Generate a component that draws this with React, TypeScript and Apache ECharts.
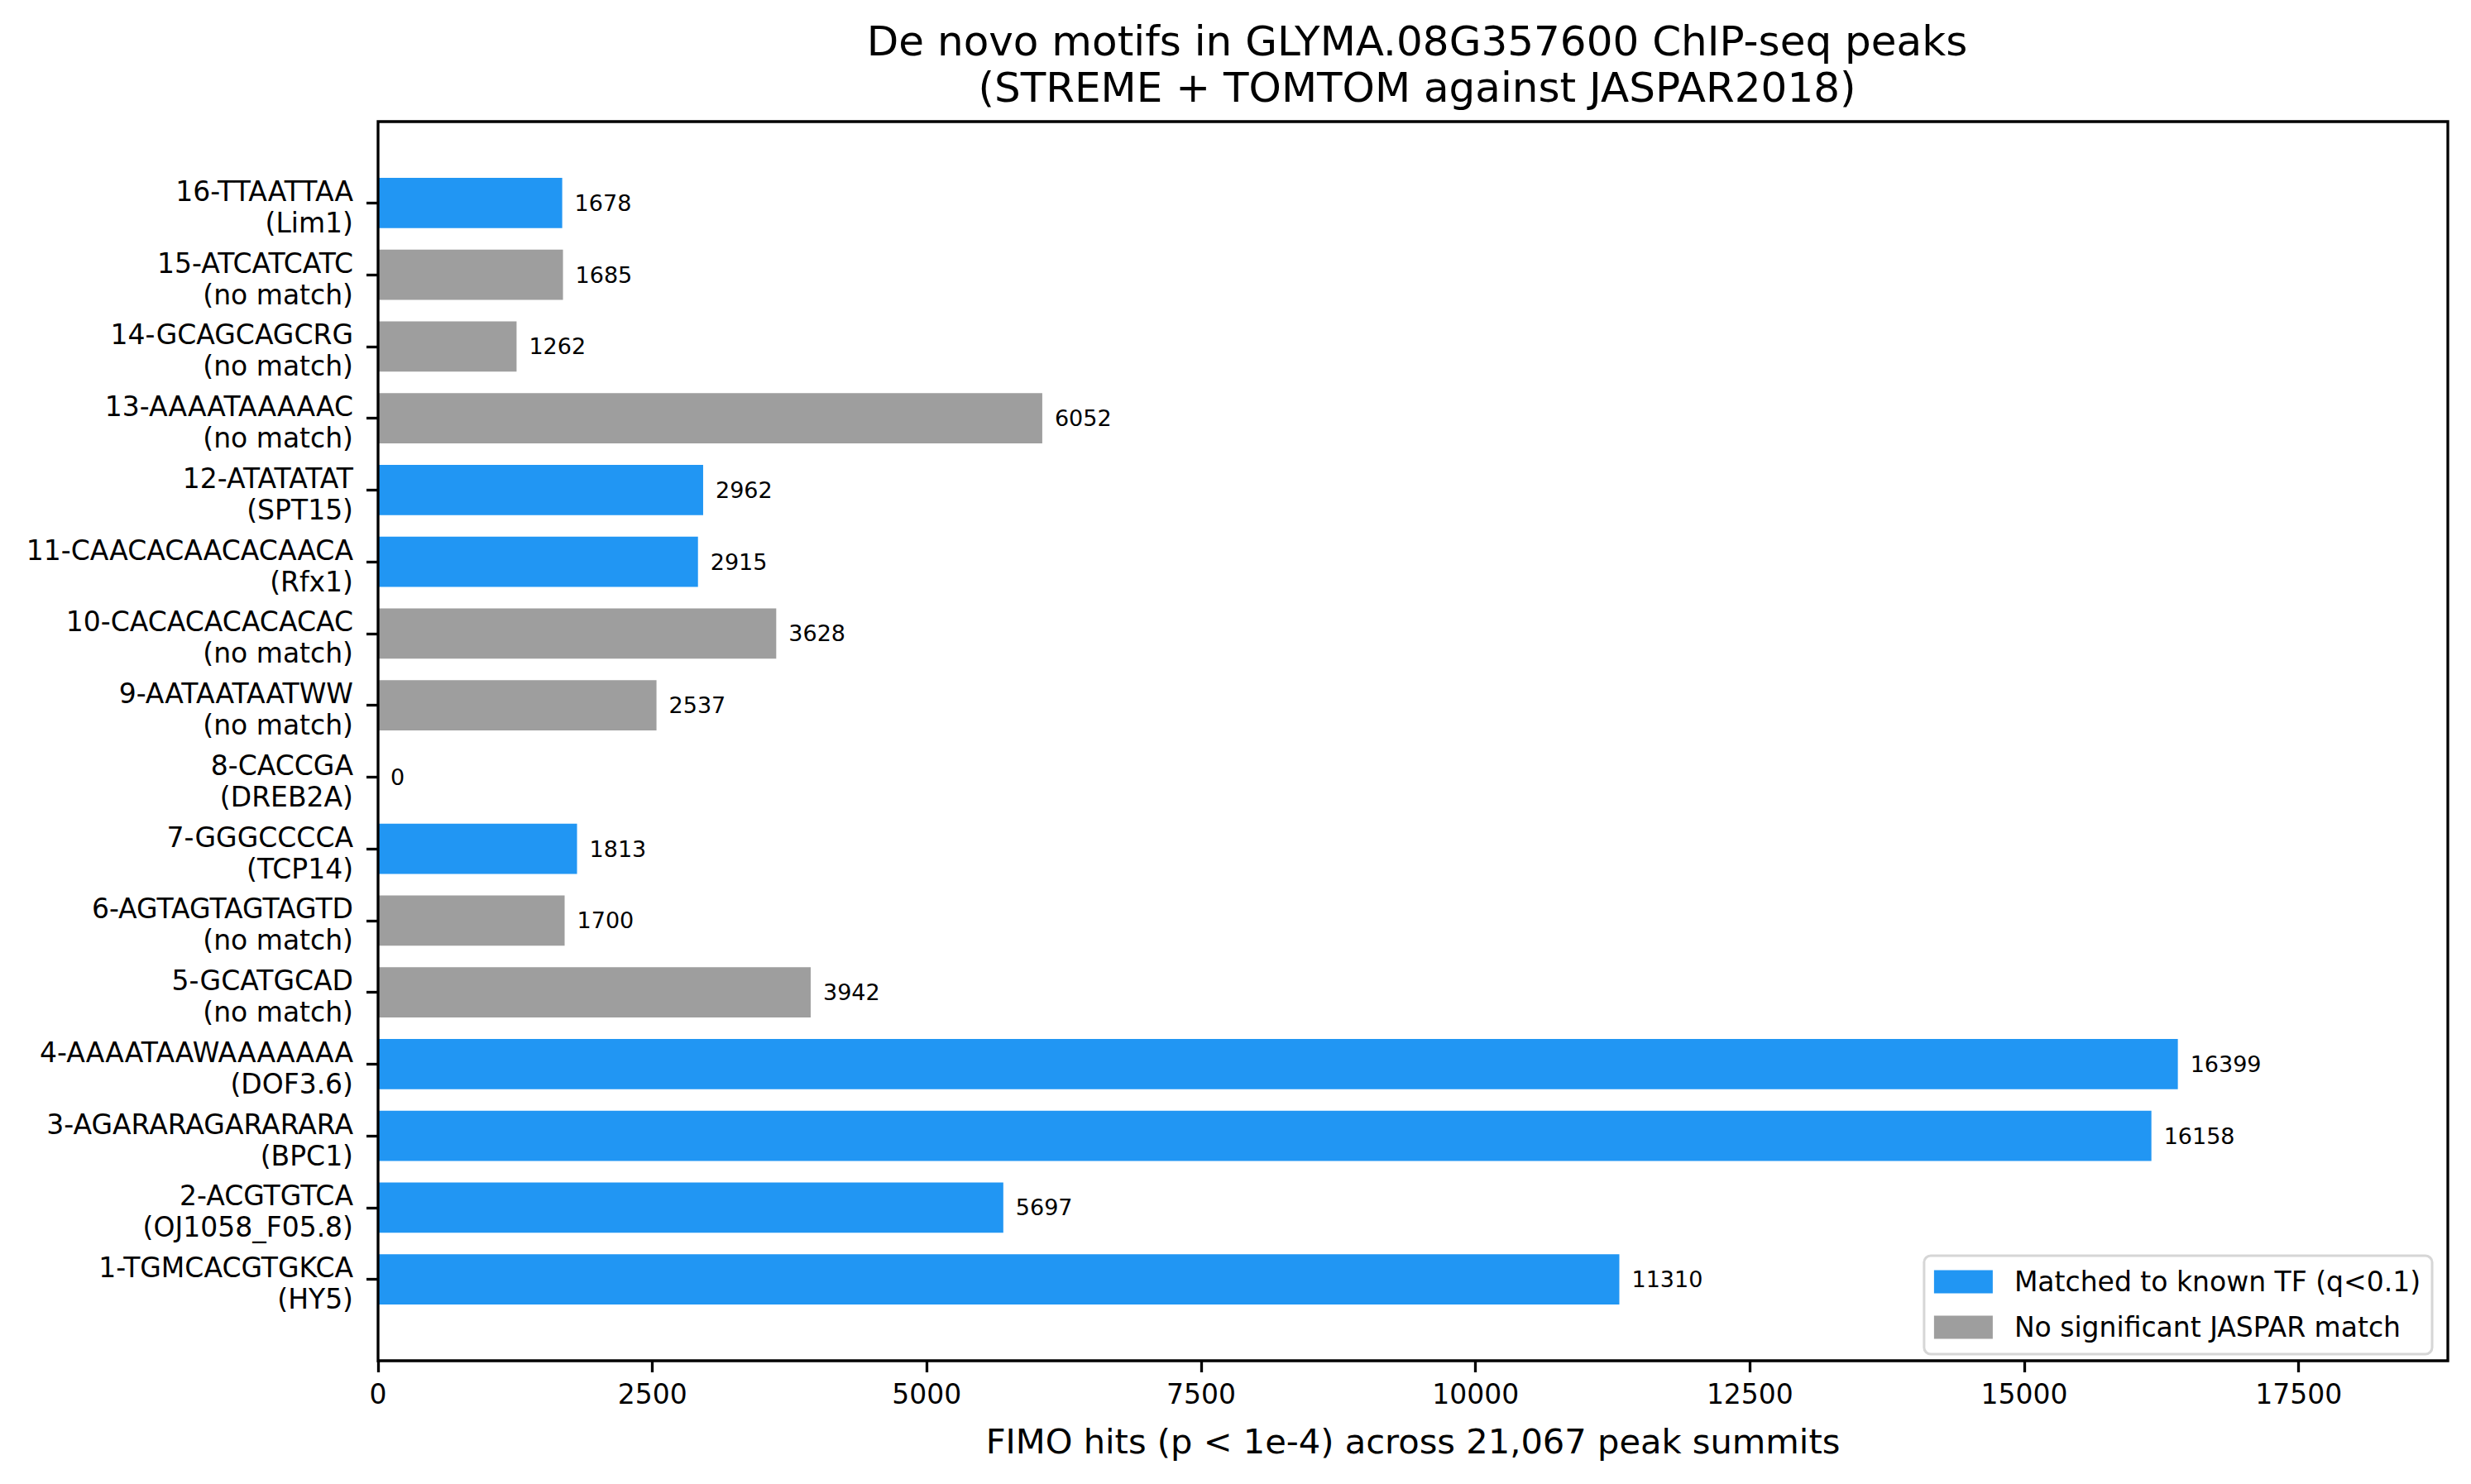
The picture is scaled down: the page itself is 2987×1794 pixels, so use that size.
import React, { useEffect, useRef } from "react";
import * as echarts from "echarts";

const motifs = [
  "1-TGMCACGTGKCA",
  "2-ACGTGTCA",
  "3-AGARARAGARARARA",
  "4-AAAATAAWAAAAAAA",
  "5-GCATGCAD",
  "6-AGTAGTAGTAGTD",
  "7-GGGCCCCA",
  "8-CACCGA",
  "9-AATAATAATWW",
  "10-CACACACACACAC",
  "11-CAACACAACACAACA",
  "12-ATATATAT",
  "13-AAAATAAAAAC",
  "14-GCAGCAGCRG",
  "15-ATCATCATC",
  "16-TTAATTAA",
];
const matches = [
  "HY5",
  "OJ1058_F05.8",
  "BPC1",
  "DOF3.6",
  "no match",
  "no match",
  "TCP14",
  "DREB2A",
  "no match",
  "no match",
  "Rfx1",
  "SPT15",
  "no match",
  "no match",
  "no match",
  "Lim1",
];
const hits = [11310, 5697, 16158, 16399, 3942, 1700, 1813, 0, 2537, 3628, 2915, 2962, 6052, 1262, 1685, 1678];
const xTicks = [0, 2500, 5000, 7500, 10000, 12500, 15000, 17500];
const xMax = 18859;
const seriesNames = ["Matched to known TF (q<0.1)", "No significant JASPAR match"];
const titleText = "De novo motifs in GLYMA.08G357600 ChIP-seq peaks\n(STREME + TOMTOM against JASPAR2018)";
const xLabel = "FIMO hits (p < 1e-4) across 21,067 peak summits";

const FONT = "DejaVu Sans";

export default function App() {
  const ref = useRef<HTMLDivElement>(null);
  useEffect(() => {
    document.body.style.margin = "0";
    const chart = echarts.init(ref.current!, null, { renderer: "svg" });
    const categories = motifs.map((m, i) => `${m}\n(${matches[i]})`);
    const matchedData = hits.map((v, i) => (matches[i] !== "no match" ? v : "-"));
    const unmatchedData = hits.map((v, i) => (matches[i] === "no match" ? v : "-"));

    // plot frame (matplotlib axes) in pixels
    const fx = 457, fy = 147, fw = 2502, fh = 1498;
    const unit = fh / 17.27;
    const pad = 0.635 * unit;

    const label = {
      show: true,
      position: "right",
      distance: 15,
      fontSize: 27,
      fontFamily: FONT,
      color: "#000",
    };

    chart.setOption({
      animation: false,
      backgroundColor: "#fff",
      textStyle: { fontFamily: FONT },
      title: {
        text: titleText,
        left: fx + fw / 2,
        textAlign: "center",
        top: 17,
        textStyle: {
          fontSize: 50,
          lineHeight: 56,
          fontWeight: "normal",
          color: "#000",
          fontFamily: FONT,
        },
      },
      grid: {
        left: fx,
        width: fw,
        top: fy + pad,
        height: fh - 2 * pad,
        containLabel: false,
      },
      xAxis: {
        type: "value",
        min: 0,
        max: xMax,
        offset: pad,
        splitLine: { show: false },
        axisLine: { show: false },
        axisTick: {
          show: true,
          length: 14,
          lineStyle: { color: "#000", width: 3.3 },
          customValues: xTicks,
        },
        axisLabel: {
          fontSize: 33,
          color: "#000",
          fontFamily: FONT,
          margin: 24,
          customValues: xTicks,
          formatter: (v: number) => String(v),
        },
        name: xLabel,
        nameLocation: "middle",
        nameGap: 76,
        nameTextStyle: { fontSize: 41.6, color: "#000", fontFamily: FONT },
      },
      yAxis: {
        type: "category",
        data: categories,
        axisLine: { show: false },
        axisTick: {
          show: true,
          alignWithLabel: true,
          length: 14,
          lineStyle: { color: "#000", width: 3.3 },
        },
        axisLabel: {
          color: "#000",
          fontFamily: FONT,
          margin: 30,
          align: "right",
          interval: 0,
          formatter: (v: string) => {
            const [a, b] = v.split("\n");
            return `{s| }\n{t|${a}}\n{t|${b}}`;
          },
          rich: {
            s: { fontSize: 1, lineHeight: 10 },
            t: { fontSize: 33, lineHeight: 38, color: "#000", fontFamily: FONT },
          },
        },
        splitLine: { show: false },
      },
      legend: {
        orient: "vertical",
        right: 47,
        top: 1518,
        data: seriesNames,
        icon: "rect",
        itemWidth: 71,
        itemHeight: 28,
        itemGap: 22,
        padding: [15, 14, 16, 12],
        borderColor: "#d6d6d6",
        borderWidth: 3,
        borderRadius: 8,
        backgroundColor: "rgba(255,255,255,0.8)",
        textStyle: {
          fontSize: 33,
          color: "#000",
          fontFamily: FONT,
          padding: [0, 0, 0, 21],
        },
        z: 20,
      },
      series: [
        {
          name: seriesNames[0],
          type: "bar",
          data: matchedData,
          barWidth: "70%",
          barGap: "-100%",
          itemStyle: { color: "#2196F3" },
          label,
        },
        {
          name: seriesNames[1],
          type: "bar",
          data: unmatchedData,
          barWidth: "70%",
          barGap: "-100%",
          itemStyle: { color: "#9E9E9E" },
          label,
        },
      ],
      graphic: [
        {
          type: "rect",
          z: 15,
          silent: true,
          shape: { x: fx, y: fy, width: fw, height: fh },
          style: { fill: "none", stroke: "#000", lineWidth: 3.3 },
        },
      ],
    });
    return () => chart.dispose();
  }, []);
  return <div ref={ref} style={{ width: 2987, height: 1794 }} />;
}
